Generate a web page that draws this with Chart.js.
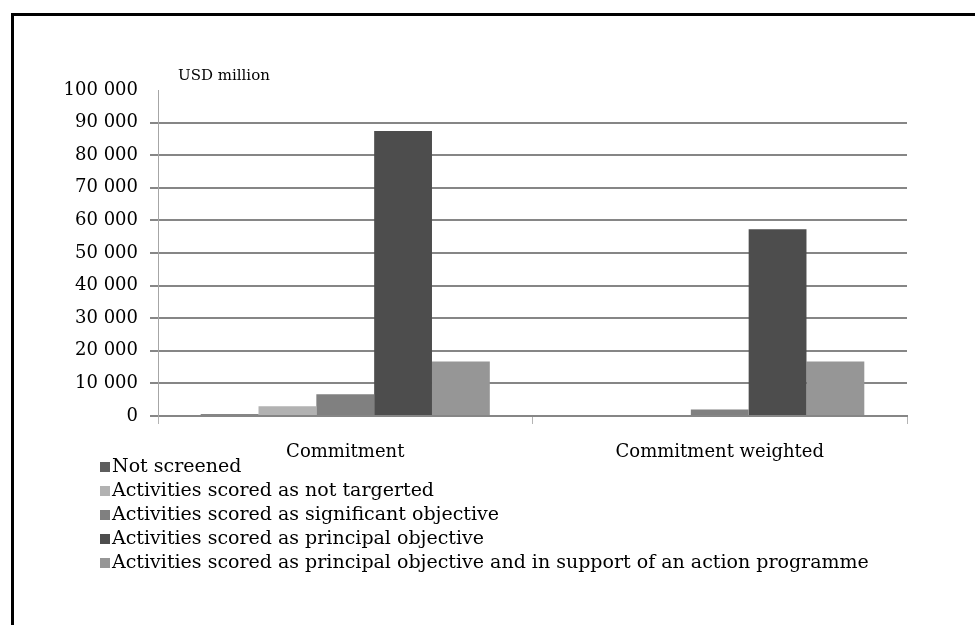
<!DOCTYPE html>
<html>
<head>
<meta charset="utf-8">
<script src="https://cdn.jsdelivr.net/npm/chart.js@4"></script>
<style>
  html, body { margin: 0; padding: 0; background: #fff; }
  #wrap { position: relative; width: 975px; height: 625px; overflow: hidden; }
  #frame { position: absolute; left: 11px; top: 13px; width: 2000px; height: 2000px; border-left: 3px solid #000; border-top: 3px solid #000; box-sizing: border-box; }
  canvas { position: absolute; left: 0; top: 0; }
  #unit { position: absolute; left: 178px; top: 66px; font: 15px "DejaVu Serif", serif; color: #000; }
  #legend { position: absolute; left: 100px; top: 453px; font: 19px "DejaVu Serif", serif; color: #000; }
  #legend div { height: 24px; line-height: 24px; white-space: nowrap; }
  #legend span.sw { display: inline-block; width: 10px; height: 10px; margin-right: 2px; vertical-align: 0px; }
</style>
</head>
<body>
<div id="wrap">
  <div id="frame"></div>
  <canvas id="c" width="975" height="625"></canvas>
  <div id="unit">USD million</div>
  <div id="legend"></div>
</div>
<script>
const categories = ["Commitment", "Commitment weighted"];
const seriesNames = [
  "Not screened",
  "Activities scored as not targerted",
  "Activities scored as significant objective",
  "Activities scored as principal objective",
  "Activities scored as principal objective and in support of an action programme"
];
const notScreened = [500, 0];
const notTargeted = [3000, 0];
const significantObjective = [6700, 2000];
const principalObjective = [87400, 57300];
const actionProgramme = [16700, 16700];
const seriesColors = ["#5e5e5e", "#b2b2b2", "#808080", "#4d4d4d", "#969696"];
const yTicks = [0, 10000, 20000, 30000, 40000, 50000, 60000, 70000, 80000, 90000, 100000];

const seriesValues = [notScreened, notTargeted, significantObjective, principalObjective, actionProgramme];
const datasets = seriesNames.map((n, i) => ({
  label: n,
  data: seriesValues[i],
  backgroundColor: seriesColors[i],
  borderWidth: 0,
  barPercentage: 1.0,
  categoryPercentage: 0.772
}));

const fmt = v => {
  const s = String(v);
  return s.length > 3 ? s.slice(0, s.length - 3) + " " + s.slice(-3) : s;
};

const chart = new Chart(document.getElementById("c"), {
  type: "bar",
  data: { labels: categories, datasets },
  options: {
    responsive: false,
    animation: false,
    layout: { padding: { left: 0, right: 68, top: 90, bottom: 0 } },
    plugins: { legend: { display: false }, tooltip: { enabled: false } },
    scales: {
      x: {
        grid: { drawOnChartArea: false, drawTicks: true, tickLength: 8, color: "#b4b4b4", lineWidth: 1 },
        border: { color: "#868686", width: 2 },
        ticks: { color: "#000", font: { family: "DejaVu Serif", size: 18 }, padding: 18 },
        afterFit: s => { s.height = 625 - 416; }
      },
      y: {
        min: 0, max: 100000,
        afterBuildTicks: s => { s.ticks = yTicks.map(v => ({ value: v })); },
        grid: {
          color: ctx => (ctx.tick && ctx.tick.value === 100000) ? "rgba(0,0,0,0)" : "#868686",
          lineWidth: 2, tickLength: 8, drawTicks: true
        },
        border: { color: "#a6a6a6", width: 1 },
        ticks: { color: "#000", font: { family: "DejaVu Serif", size: 18 }, padding: 12, callback: v => fmt(v) },
        afterFit: s => { s.width = 158; }
      }
    }
  }
});

const lg = document.getElementById("legend");
chart.data.datasets.forEach(d => {
  const row = document.createElement("div");
  const sw = document.createElement("span");
  sw.className = "sw";
  sw.style.background = d.backgroundColor;
  row.appendChild(sw);
  row.appendChild(document.createTextNode(d.label));
  lg.appendChild(row);
});
</script>
</body>
</html>
